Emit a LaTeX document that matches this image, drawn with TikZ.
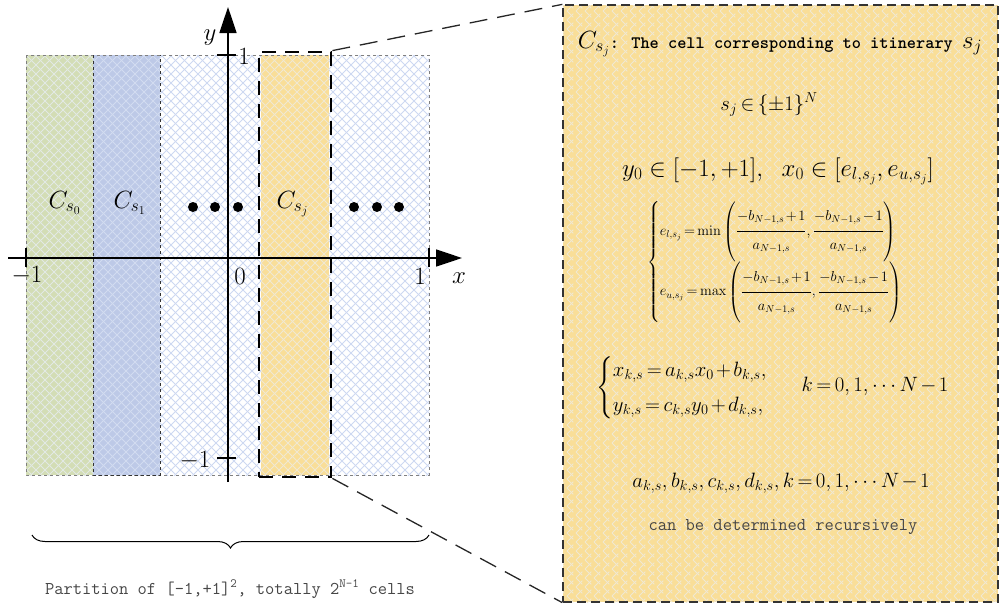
\documentclass[tikz,border=0pt]{standalone}
\usepackage{amsmath}
\usepackage[no-math]{fontspec}
\usetikzlibrary{arrows.meta, positioning, patterns.meta, decorations.pathreplacing}
\definecolor{cellgreen}{RGB}{211, 221, 181}
\definecolor{cellblue}{RGB}{189, 201, 231}
\definecolor{cellyellow}{RGB}{249, 222, 152}
\definecolor{hatchblue}{RGB}{205, 216, 241}
\definecolor{hatchgreen}{RGB}{226, 233, 228}
\definecolor{hatchblueb}{RGB}{210, 219, 240}
\definecolor{hatchyellow}{RGB}{240, 232, 210}
\definecolor{monogray}{RGB}{70, 70, 70}

\tikzdeclarepattern{
  name=diamonds,
  bounding box={(-1pt,-1pt) and (10pt,10pt)},
  tile size={(9pt,9pt)},
  code={
    \draw[line width=1pt] (0pt,0pt) -- (9pt,9pt);
    \draw[line width=1pt] (0pt,9pt) -- (9pt,0pt);
  }
}
\newcommand{\tallfrac}[2]{\dfrac{#1\rule[-9pt]{0pt}{27pt}}{#2\rule[-9pt]{0pt}{25pt}}}
\newcommand{\tightmath}{\thickmuskip=3mu\relax\medmuskip=2mu\relax}

\begin{document}
\begin{tikzpicture}[x=1pt, y=-1pt,
    axisline/.style={line width=1.6pt, -{Triangle[length=26pt, width=17pt]}},
    axtick/.style={line width=1.6pt},
    biglabel/.style={font=\fontsize{24}{28}\selectfont},
    eqlabel/.style={font={\fontsize{22}{26}\selectfont\tightmath}},
    celllabel/.style={font=\fontsize{26}{30}\selectfont, anchor=base west},
    cellbox/.style={draw, line width=2.8pt, dash pattern=on 14pt off 9pt, inner sep=0pt,
        minimum width=72pt, minimum height=425pt},
    detailbox/.style={draw=black!80, line width=1.3pt, dash pattern=on 9pt off 5pt, inner sep=0pt,
        minimum width=435pt, minimum height=597pt, preaction={fill=cellyellow},
        pattern=diamonds, pattern color=hatchyellow},
    zoomline/.style={black!85, line width=1.3pt, dash pattern=on 18pt off 10pt},
    monotext/.style={font=\fontsize{18}{20}\selectfont\ttfamily, text=monogray, anchor=base}
]
    \useasboundingbox (0,0) rectangle (1000,605);

    % partition of the square
    \fill[pattern=diamonds, pattern color=hatchblue] (26,55) rectangle (429,475);
    \fill[cellgreen] (26,55) rectangle (93,475);
    \fill[pattern=diamonds, pattern color=hatchgreen] (26,55) rectangle (93,475);
    \fill[cellblue] (93,55) rectangle (160,475);
    \fill[pattern=diamonds, pattern color=hatchblueb] (93,55) rectangle (160,475);
    \fill[cellyellow] (261,55) rectangle (329,475);
    \fill[pattern=diamonds, pattern color=hatchyellow] (261,55) rectangle (329,475);
    \draw[gray, dashed, line width=0.5pt] (26,55) rectangle (429,475);
    \draw[black!80, dashed, line width=0.6pt] (93,55) -- (93,475) -- (160,475) -- (160,55);

    % axes
    \draw[axisline] (8,258) -- (462,258);
    \draw[axisline] (228,482) -- (228,7);
    \draw[axtick] (26,248) -- (26,267);
    \draw[axtick] (429,248) -- (429,267);
    \draw[axtick] (217,55) -- (236,55);
    \draw[axtick] (217,458) -- (236,458);
    \node[biglabel] (xm) at (27,276) {$-1$};
    \node[biglabel] (xz) at (240,276) {$0$};
    \node[biglabel] (xp) at (420,276) {$1$};
    \node[biglabel] (xl) at (459,278) {$x$};
    \node[biglabel] (yl) at (210,38) {$y$};
    \node[biglabel] (yp) at (244,56) {$1$};
    \node[biglabel] (ym) at (195,461) {$-1$};

    % cell labels
    \node[celllabel] (c0) at (45,208) {$C_{s_0}$};
    \node[celllabel] (c1) at (110,208) {$C_{s_1}$};
    \node[celllabel] (cj) at (273,208) {$C_{s_j}$};
    \foreach \x in {193,215,238,354,377,399}
        \fill (\x,207) circle (5pt);

    % highlighted cell
    \node[cellbox] (cellj) at (295,264.5) {};

    % brace
    \draw[line width=1pt, decorate, decoration={brace, mirror, amplitude=13pt}] (32,535) -- (429,535);
    \node[monotext] (part) at (230,594) {Partition of [-1,+1]\textsuperscript{2}, totally 2\textsuperscript{N-1} cells};

    % detail box
    \node[detailbox] (detail) at (780.5,303.5) {};
    \draw[zoomline] (cellj.north east) -- (detail.north west);
    \draw[zoomline] (cellj.south east) -- (detail.south west);

    \node[anchor=base] (title) at (780,48) {\fontsize{25}{28}\selectfont$C_{s_j}$\fontsize{17.5}{20}\selectfont\ttfamily\bfseries: The cell corresponding to itinerary \fontsize{25}{28}\selectfont$s_j$};
    \node[eqlabel, anchor=base] (sj) at (769,110) {$s_j \in \{\pm 1\}^N$};
    \node[biglabel, anchor=base] (range) at (778,176) {$y_0 \in [-1,+1],\ \ x_0 \in [e_{l,s_j}, e_{u,s_j}]$};
    \node[font={\fontsize{14}{16}\selectfont\tightmath}] (bounds) at (782,262) {$\begin{cases}
        e_{l,s_j} = \min\left(\tallfrac{-b_{N-1,s}+1}{a_{N-1,s}}, \tallfrac{-b_{N-1,s}-1}{a_{N-1,s}}\right) \\[0pt]
        e_{u,s_j} = \max\left(\tallfrac{-b_{N-1,s}+1}{a_{N-1,s}}, \tallfrac{-b_{N-1,s}-1}{a_{N-1,s}}\right)
      \end{cases}$};
    \node[eqlabel] (maps) at (693,388) {$\begin{cases}
        x_{k,s} = a_{k,s} x_0 + b_{k,s}, \\[4pt]
        y_{k,s} = c_{k,s} y_0 + d_{k,s},
      \end{cases}$};
    \node[eqlabel, anchor=base] (krange) at (875,391) {$k = 0,1,\cdots N-1$};
    \node[eqlabel, anchor=base] (coef) at (781,487) {$a_{k,s}, b_{k,s}, c_{k,s}, d_{k,s}, k = 0,1,\cdots N-1$};
    \node[monotext] (recur) at (783,530) {can be determined recursively};
\end{tikzpicture}
\end{document}
